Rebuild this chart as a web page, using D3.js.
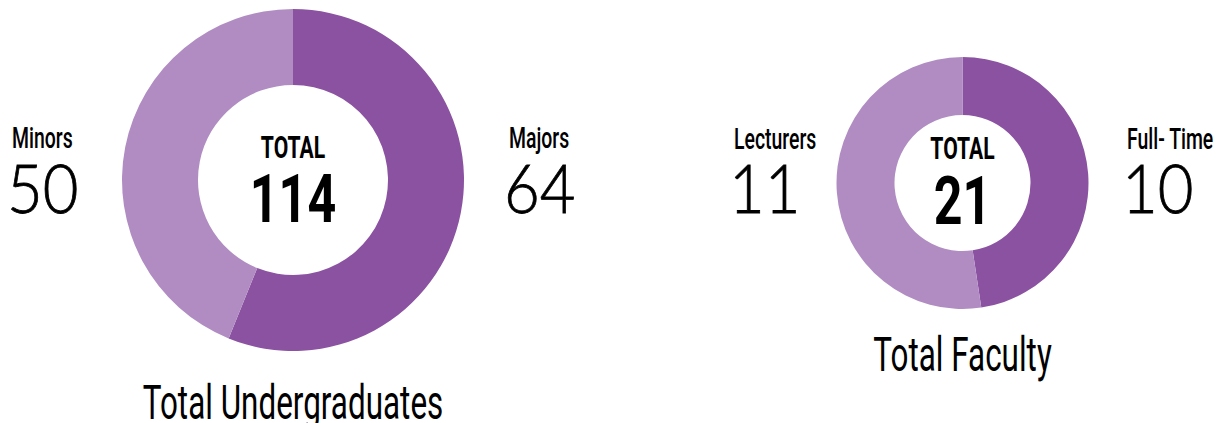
<!DOCTYPE html>
<html><head><meta charset="utf-8">
<script src="https://cdn.jsdelivr.net/npm/d3@7"></script>
<style>body{margin:0;background:#fff}svg{display:block}</style>
</head><body>
<svg id="c" width="1216" height="423"></svg>
<script>
const undergradCategories = ["Majors", "Minors"];
const undergradValues = [64, 50];
const undergradTitle = "Total Undergraduates";
const facultyCategories = ["Full- Time", "Lecturers"];
const facultyValues = [10, 11];
const facultyTitle = "Total Faculty";
const centerLabel = "TOTAL";

const colors = ["#8B52A1", "#B08CC2"];
const svg = d3.select("#c");

function ctext(g, x, y, str, size, weight, sx, family, anchor, strokeW) {
  const t = g.append("g").attr("transform", `translate(${x},${y}) scale(${sx},1)`)
    .append("text").attr("x", 0).attr("y", 0)
    .attr("font-family", family || "Roboto")
    .attr("font-size", size).attr("font-weight", weight)
    .attr("text-anchor", anchor || "start").attr("fill", "#000").text(str);
  if (strokeW) t.attr("stroke", "#000").attr("stroke-width", strokeW);
  return t;
}

function donut(cfg) {
  const { cats, vals, cx, cy, r, ir, leftX, rightX, title, titleY, labelY, numY, totY, totNumY } = cfg;
  const g = svg.append("g");
  const pie = d3.pie().sort(null).value(d => d)(vals);
  const arc = d3.arc().innerRadius(ir).outerRadius(r);
  g.append("g").attr("transform", `translate(${cx},${cy})`)
    .selectAll("path").data(pie).join("path")
    .attr("d", arc).attr("fill", (d, i) => colors[i]);
  const total = d3.sum(vals);
  ctext(g, cx, totY, centerLabel, 32, 700, 0.66, "Roboto", "middle");
  ctext(g, cx, totNumY, String(total), 66, 700, 0.76, "Roboto", "middle");
  ctext(g, rightX, labelY, cats[0], 29, 500, 0.67, "Roboto", "start");
  ctext(g, rightX - 5, numY, String(vals[0]), 67, 300, 0.92, "Lato", "start", 0.8);
  ctext(g, leftX, labelY, cats[1], 29, 500, 0.67, "Roboto", "start");
  ctext(g, leftX - 5, numY, String(vals[1]), 67, 300, 0.92, "Lato", "start", 0.8);
  ctext(g, cx, titleY, title, 48, 400, 0.655, "Roboto", "middle");
}

donut({ cats: undergradCategories, vals: undergradValues, cx: 293, cy: 180, r: 171, ir: 95,
  leftX: 12, rightX: 509, title: undergradTitle, titleY: 419, labelY: 148, numY: 213, totY: 158, totNumY: 222 });
donut({ cats: facultyCategories, vals: facultyValues, cx: 962.5, cy: 183, r: 126, ir: 68,
  leftX: 734, rightX: 1127, title: facultyTitle, titleY: 371, labelY: 149, numY: 213, totY: 159, totNumY: 224 });
</script>
</body></html>
